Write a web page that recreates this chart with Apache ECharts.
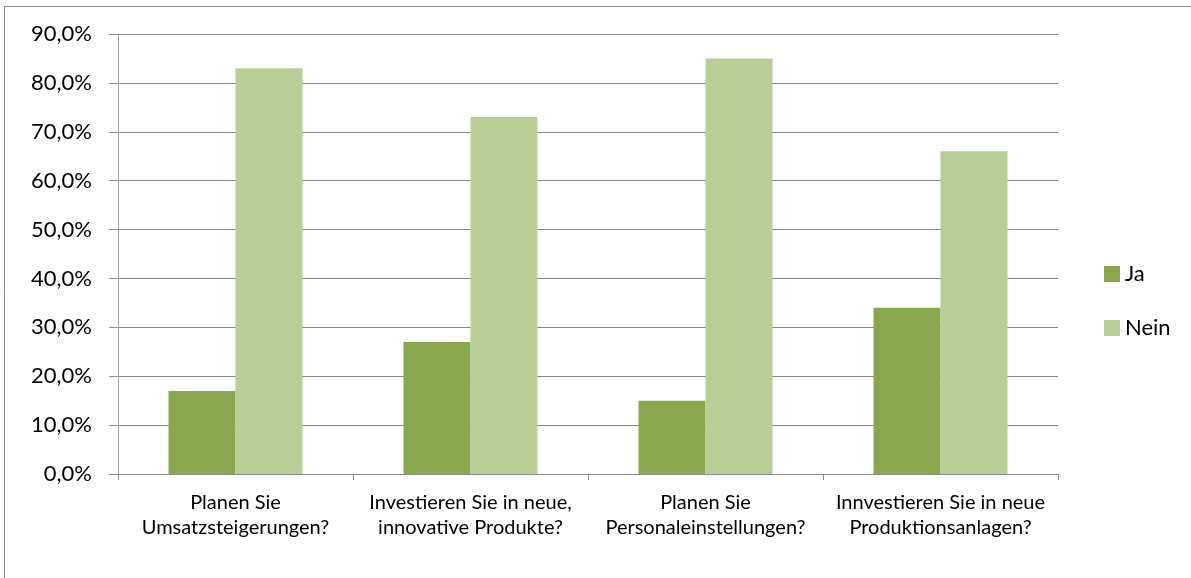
<!DOCTYPE html>
<html><head><meta charset="utf-8">
<script src="https://cdn.jsdelivr.net/npm/echarts@6/dist/echarts.min.js"></script>
<style>html,body{margin:0;padding:0;background:#fff}#c{width:1191px;height:578px}</style>
</head><body><div id="c"></div>
<script>
const categories = ['Planen Sie\nUmsatzsteigerungen?', 'Investieren Sie in neue,\ninnovative Produkte?', 'Planen Sie\nPersonaleinstellungen?', 'Innvestieren Sie in neue\nProduktionsanlagen?'];
const ja = [17, 27, 15, 34];
const nein = [83, 73, 85, 66];
const seriesNames = ['Ja', 'Nein'];
const font = 'Lato, "Open Sans", sans-serif';
const chart = echarts.init(document.getElementById('c'));
chart.setOption({
  animation: false,
  textStyle: {fontFamily: font},
  graphic: [{type: 'polyline', shape: {points: [[4.5, 600], [4.5, 6.5], [1200, 6.5]]}, style: {stroke: '#8c8c8c', lineWidth: 1, fill: null}}],
  grid: {left: 118, top: 34, right: 133, bottom: 104},
  legend: {orient: 'vertical', left: 1104, top: 263, padding: 0, itemWidth: 16, itemHeight: 16, itemGap: 32,
    icon: 'rect', textStyle: {fontSize: 22, lineHeight: 16, color: '#000', fontFamily: font}, data: seriesNames},
  xAxis: {type: 'category', data: categories,
    axisLine: {lineStyle: {color: '#8c8c8c'}},
    axisTick: {show: true, length: 6, lineStyle: {color: '#8c8c8c'}},
    axisLabel: {fontSize: 20, color: '#000', lineHeight: 25, margin: 16, fontFamily: font, interval: 0}},
  yAxis: {type: 'value', min: 0, max: 90, interval: 10,
    axisLine: {show: true, lineStyle: {color: '#a0a0a0'}},
    axisTick: {show: true, length: 9, lineStyle: {color: '#8c8c8c'}},
    splitLine: {lineStyle: {color: '#868686', width: 1}},
    axisLabel: {fontSize: 22, color: '#000', margin: 26, fontFamily: font,
      formatter: v => v.toFixed(1).replace('.', ',') + '%'}},
  series: [
    {name: seriesNames[0], type: 'bar', data: ja, barWidth: 67, barGap: '0%', itemStyle: {color: '#8aa64f'}},
    {name: seriesNames[1], type: 'bar', data: nein, barWidth: 67, barGap: '0%', itemStyle: {color: '#b9cd96'}}
  ]
});
</script></body></html>
